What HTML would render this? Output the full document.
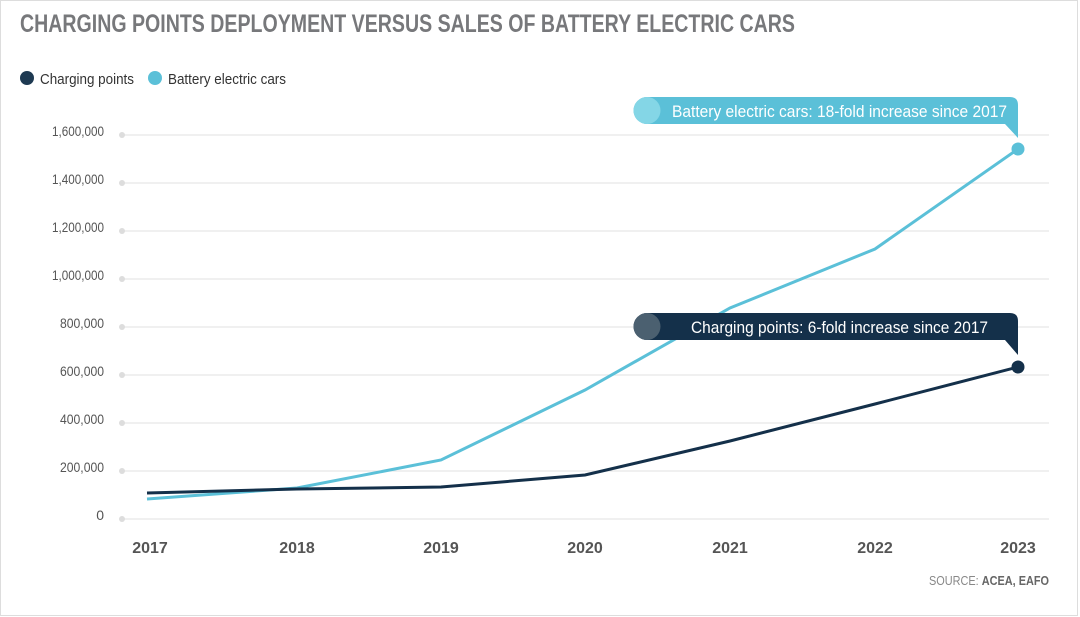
<!DOCTYPE html>
<html><head><meta charset="utf-8"><style>
html,body{margin:0;padding:0;background:#fff}
svg{display:block}
text{font-family:"Liberation Sans Narrow","Liberation Sans",sans-serif}
</style></head><body>
<svg width="1080" height="617" viewBox="0 0 1080 617" xmlns="http://www.w3.org/2000/svg">
<rect x="0.5" y="0.5" width="1077" height="615" fill="#fff" stroke="#ddd"/>
<text x="20" y="32" font-size="25" font-weight="bold" fill="#77787b" textLength="775" lengthAdjust="spacingAndGlyphs">CHARGING POINTS DEPLOYMENT VERSUS SALES OF BATTERY ELECTRIC CARS</text>
<circle cx="27" cy="78" r="7" fill="#1e3a52"/>
<text x="40" y="84" font-size="15" fill="#333" textLength="94" lengthAdjust="spacingAndGlyphs">Charging points</text>
<circle cx="155" cy="78" r="7" fill="#5bc0d8"/>
<text x="168" y="84" font-size="15" fill="#333" textLength="118" lengthAdjust="spacingAndGlyphs">Battery electric cars</text>
<g stroke="#e8e8e8" stroke-width="1.3">
<line x1="122" y1="135" x2="1049" y2="135"/><line x1="122" y1="183" x2="1049" y2="183"/>
<line x1="122" y1="231" x2="1049" y2="231"/><line x1="122" y1="279" x2="1049" y2="279"/>
<line x1="122" y1="327" x2="1049" y2="327"/><line x1="122" y1="375" x2="1049" y2="375"/>
<line x1="122" y1="423" x2="1049" y2="423"/><line x1="122" y1="471" x2="1049" y2="471"/>
<line x1="122" y1="519" x2="1049" y2="519"/>
</g>
<g fill="#ddd"><circle cx="122" cy="135" r="3"/><circle cx="122" cy="183" r="3"/><circle cx="122" cy="231" r="3"/><circle cx="122" cy="279" r="3"/><circle cx="122" cy="327" r="3"/><circle cx="122" cy="375" r="3"/><circle cx="122" cy="423" r="3"/><circle cx="122" cy="471" r="3"/><circle cx="122" cy="519" r="3"/></g>
<g font-size="14" fill="#555" text-anchor="end">
<text x="104" y="136" textLength="52" lengthAdjust="spacingAndGlyphs">1,600,000</text><text x="104" y="184" textLength="52" lengthAdjust="spacingAndGlyphs">1,400,000</text><text x="104" y="232" textLength="52" lengthAdjust="spacingAndGlyphs">1,200,000</text>
<text x="104" y="280" textLength="52" lengthAdjust="spacingAndGlyphs">1,000,000</text><text x="104" y="328" textLength="44" lengthAdjust="spacingAndGlyphs">800,000</text><text x="104" y="376" textLength="44" lengthAdjust="spacingAndGlyphs">600,000</text>
<text x="104" y="424" textLength="44" lengthAdjust="spacingAndGlyphs">400,000</text><text x="104" y="472" textLength="44" lengthAdjust="spacingAndGlyphs">200,000</text><text x="104" y="520">0</text>
</g>
<g font-size="16" fill="#555" font-weight="bold" text-anchor="middle">
<text x="150" y="553">2017</text><text x="297" y="553">2018</text><text x="441" y="553">2019</text>
<text x="585" y="553">2020</text><text x="730" y="553">2021</text><text x="875" y="553">2022</text><text x="1018" y="553">2023</text>
</g>
<polyline fill="none" stroke="#5bc0d8" stroke-width="3" points="147,499 297,488 441,460 585,390 730,308 875,249 1018,149"/>
<polyline fill="none" stroke="#14304a" stroke-width="3" points="147,493 297,489 441,487 585,475 730,441 875,404 1018,367"/>
<circle cx="1018" cy="149" r="6.5" fill="#5bc0d8"/>
<circle cx="1018" cy="367" r="6.5" fill="#14304a"/>
<path d="M647,97 H1010 Q1018,97 1018,105 V138 L1005,124 H647 A13.5,13.5 0 0 1 647,97 Z" fill="#5bc0d8"/>
<circle cx="647" cy="110.5" r="13.5" fill="#84d6e6"/>
<text x="672" y="117" font-size="17" fill="#fff" textLength="335" lengthAdjust="spacingAndGlyphs">Battery electric cars: 18-fold increase since 2017</text>
<path d="M647,313 H1010 Q1018,313 1018,321 V355 L1005,340 H647 A13.5,13.5 0 0 1 647,313 Z" fill="#14304a"/>
<circle cx="647" cy="326.5" r="13.5" fill="#4b6070"/>
<text x="691" y="333" font-size="17" fill="#fff" textLength="297" lengthAdjust="spacingAndGlyphs">Charging points: 6-fold increase since 2017</text>
<text x="1049" y="585" font-size="13" fill="#888" text-anchor="end" textLength="120" lengthAdjust="spacingAndGlyphs">SOURCE: <tspan font-weight="bold" fill="#666">ACEA, EAFO</tspan></text>
</svg>
</body></html>
